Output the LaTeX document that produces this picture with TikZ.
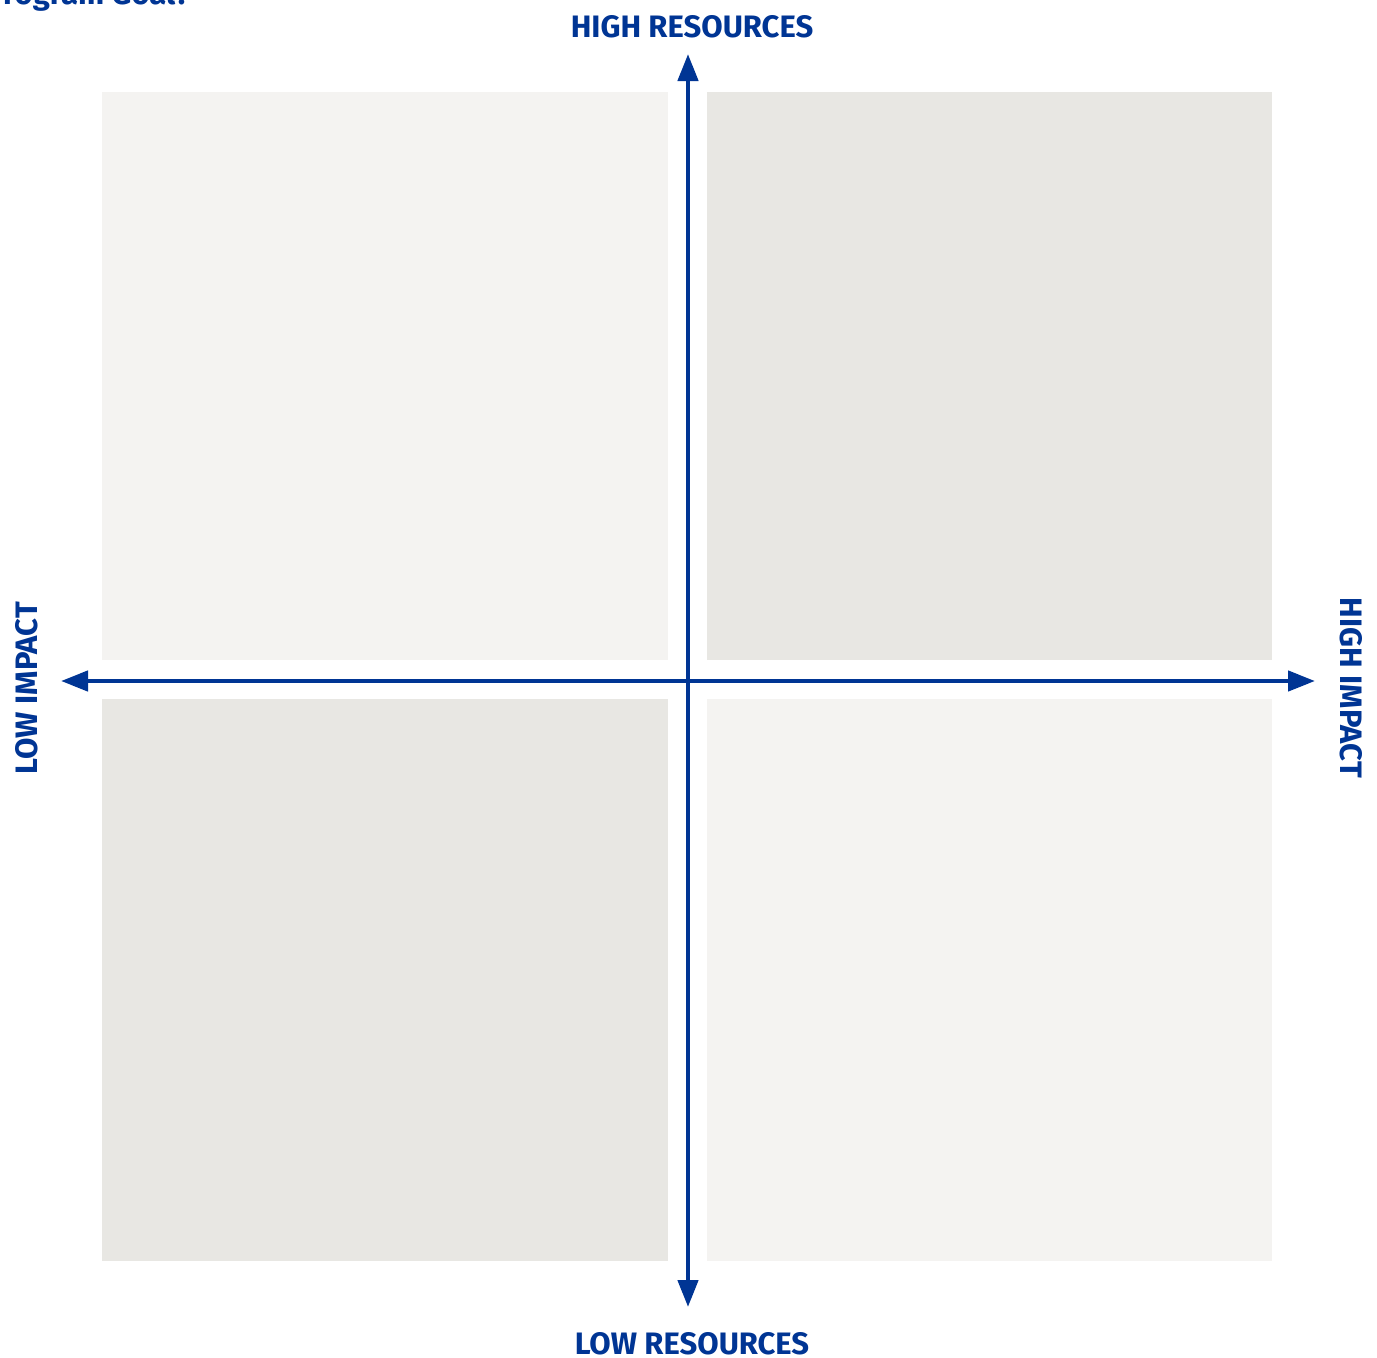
\documentclass[tikz,border=0pt]{standalone}
\usepackage{fontspec}
\setmainfont{Fira Sans}
\usetikzlibrary{arrows.meta}
\definecolor{axisblue}{RGB}{0,53,148}
\definecolor{quadlight}{RGB}{244,243,241}
\definecolor{quaddark}{RGB}{232,231,227}
\tikzset{
  axis/.style={draw=axisblue, line width=4.5pt, {Triangle[length=27pt,width=20pt]}-{Triangle[length=27pt,width=20pt]}},
  lab/.style={text=axisblue, font=\fontsize{31}{36}\selectfont\bfseries, inner sep=0pt, anchor=base},
}
\begin{document}
\begin{tikzpicture}[x=1pt,y=-1pt]
\useasboundingbox (0,0) rectangle (1377,1358);
\fill[white] (0,0) rectangle (1377,1358);
% quadrants
\fill[quadlight] (102,92) rectangle (668,660);
\fill[quaddark] (707,92) rectangle (1272,660);
\fill[quaddark] (102,699) rectangle (668,1261);
\fill[quadlight] (707,699) rectangle (1272,1261);
% axis end points
\coordinate (top) at (688,54);
\coordinate (bot) at (688,1307);
\coordinate (left) at (61,681);
\coordinate (right) at (1315,681);
\draw[axis] (bot) -- (top);
\draw[axis] (left) -- (right);
% labels
\node[lab] (hr) at (692,37) {HIGH RESOURCES};
\node[lab] (lr) at (692,1354) {LOW RESOURCES};
\node[lab, rotate=90] (li) at (37,688) {LOW IMPACT};
\node[lab, rotate=-90] (hi) at (1340,688) {HIGH IMPACT};
\begin{scope}
\clip (0,0) rectangle (1377,1358);
\node[lab, anchor=base east] (goal) at (190,4) {Program Goal?};
\end{scope}
\end{tikzpicture}
\end{document}
